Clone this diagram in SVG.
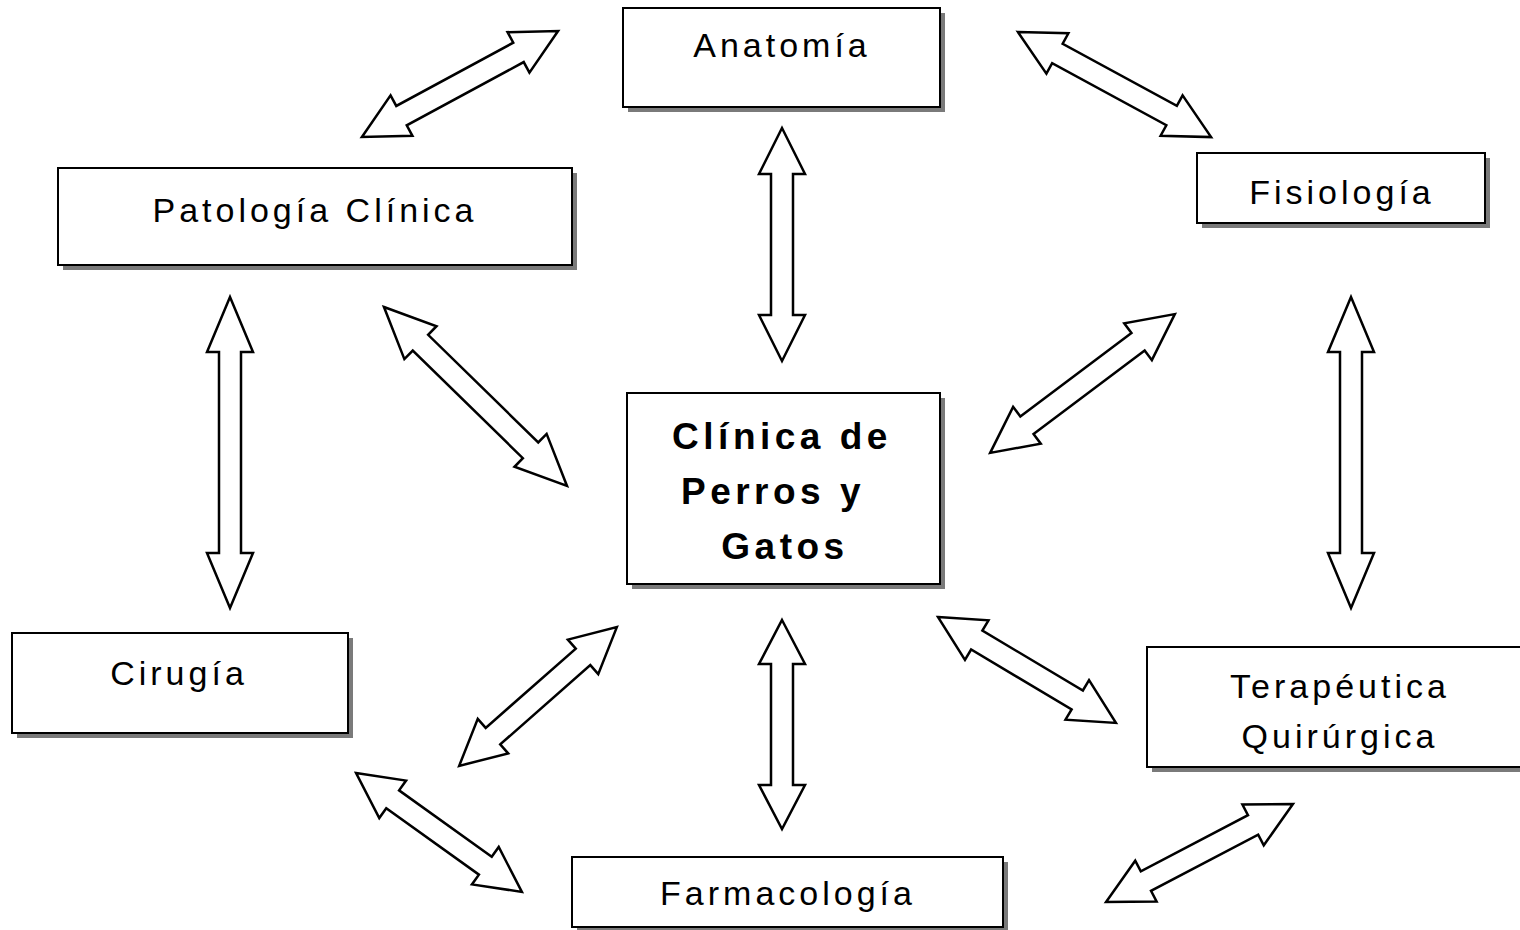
<svg xmlns="http://www.w3.org/2000/svg" width="1520" height="930" viewBox="0 0 1520 930">
<style>
.box{fill:#fff;stroke:#000;stroke-width:2}
.sh{fill:#7a7a7a}
.t{font-family:"Liberation Sans",Arial,sans-serif;font-size:34px;letter-spacing:4px;text-anchor:middle;fill:#000}
.b{font-family:"Liberation Sans",Arial,sans-serif;font-size:37px;font-weight:bold;letter-spacing:4.5px;text-anchor:middle;fill:#000}
.ar{fill:#fff;stroke:#000;stroke-width:2.5;stroke-linejoin:miter}
</style>
<rect width="1520" height="930" fill="#fff"/>
<g id="connectors">
<polygon class="ar" transform="translate(460,84) rotate(-28.4)" points="-111.5,0 -66.5,-23 -66.5,-11 66.5,-11 66.5,-23 111.5,0 66.5,23 66.5,11 -66.5,11 -66.5,23"/>
<polygon class="ar" transform="translate(1114.5,84.5) rotate(28.55)" points="-110,0 -65,-23 -65,-11 65,-11 65,-23 110,0 65,23 65,11 -65,11 -65,23"/>
<polygon class="ar" transform="translate(782,244.5) rotate(90)" points="-116.5,0 -70.5,-23 -70.5,-11 70.5,-11 70.5,-23 116.5,0 70.5,23 70.5,11 -70.5,11 -70.5,23"/>
<polygon class="ar" transform="translate(230,452.5) rotate(90)" points="-155.5,0 -100.5,-23 -100.5,-11 100.5,-11 100.5,-23 155.5,0 100.5,23 100.5,11 -100.5,11 -100.5,23"/>
<polygon class="ar" transform="translate(475.5,396.5) rotate(44.36)" points="-128,0 -77,-23 -77,-11 77,-11 77,-23 128,0 77,23 77,11 -77,11 -77,23"/>
<polygon class="ar" transform="translate(1082.5,383.5) rotate(-36.92)" points="-115.5,0 -69.5,-23 -69.5,-11 69.5,-11 69.5,-23 115.5,0 69.5,23 69.5,11 -69.5,11 -69.5,23"/>
<polygon class="ar" transform="translate(1351,452.5) rotate(90)" points="-155.5,0 -100.5,-23 -100.5,-11 100.5,-11 100.5,-23 155.5,0 100.5,23 100.5,11 -100.5,11 -100.5,23"/>
<polygon class="ar" transform="translate(538,696.5) rotate(-41.34)" points="-105,0 -60,-23 -60,-11 60,-11 60,-23 105,0 60,23 60,11 -60,11 -60,23"/>
<polygon class="ar" transform="translate(782,724.5) rotate(90)" points="-104.5,0 -60.5,-23 -60.5,-11 60.5,-11 60.5,-23 104.5,0 60.5,23 60.5,11 -60.5,11 -60.5,23"/>
<polygon class="ar" transform="translate(1027,670) rotate(30.77)" points="-103.5,0 -58.5,-23 -58.5,-11 58.5,-11 58.5,-23 103.5,0 58.5,23 58.5,11 -58.5,11 -58.5,23"/>
<polygon class="ar" transform="translate(439,832.5) rotate(35.63)" points="-102,0 -57,-23 -57,-11 57,-11 57,-23 102,0 57,23 57,11 -57,11 -57,23"/>
<polygon class="ar" transform="translate(1199.5,853) rotate(-27.66)" points="-105.5,0 -60.5,-23 -60.5,-11 60.5,-11 60.5,-23 105.5,0 60.5,23 60.5,11 -60.5,11 -60.5,23"/>
</g>
<g id="anatomia">
<rect class="sh" x="628" y="13" width="317" height="99"/>
<rect class="box" x="623" y="8" width="317" height="99"/>
<text class="t" x="782" y="57">Anatomía</text>
</g>
<g id="patologia">
<rect class="sh" x="63" y="173" width="514" height="97"/>
<rect class="box" x="58" y="168" width="514" height="97"/>
<text class="t" x="315" y="222">Patología Clínica</text>
</g>
<g id="fisiologia">
<rect class="sh" x="1202" y="158" width="288" height="70"/>
<rect class="box" x="1197" y="153" width="288" height="70"/>
<text class="t" x="1342" y="204">Fisiología</text>
</g>
<g id="clinica">
<rect class="sh" x="632" y="398" width="313" height="191"/>
<rect class="box" x="627" y="393" width="313" height="191"/>
<text class="b" x="782" y="449">Clínica de</text>
<text class="b" x="773" y="504">Perros y</text>
<text class="b" x="785" y="559">Gatos</text>
</g>
<g id="cirugia">
<rect class="sh" x="17" y="638" width="336" height="100"/>
<rect class="box" x="12" y="633" width="336" height="100"/>
<text class="t" x="179" y="685">Cirugía</text>
</g>
<g id="terapeutica">
<rect class="sh" x="1152" y="652" width="380" height="120"/>
<rect class="box" x="1147" y="647" width="380" height="120"/>
<text class="t" x="1340" y="698">Terapéutica</text>
<text class="t" x="1340" y="748">Quirúrgica</text>
</g>
<g id="farmacologia">
<rect class="sh" x="577" y="862" width="431" height="70"/>
<rect class="box" x="572" y="857" width="431" height="70"/>
<text class="t" x="788" y="905">Farmacología</text>
</g>
</svg>
